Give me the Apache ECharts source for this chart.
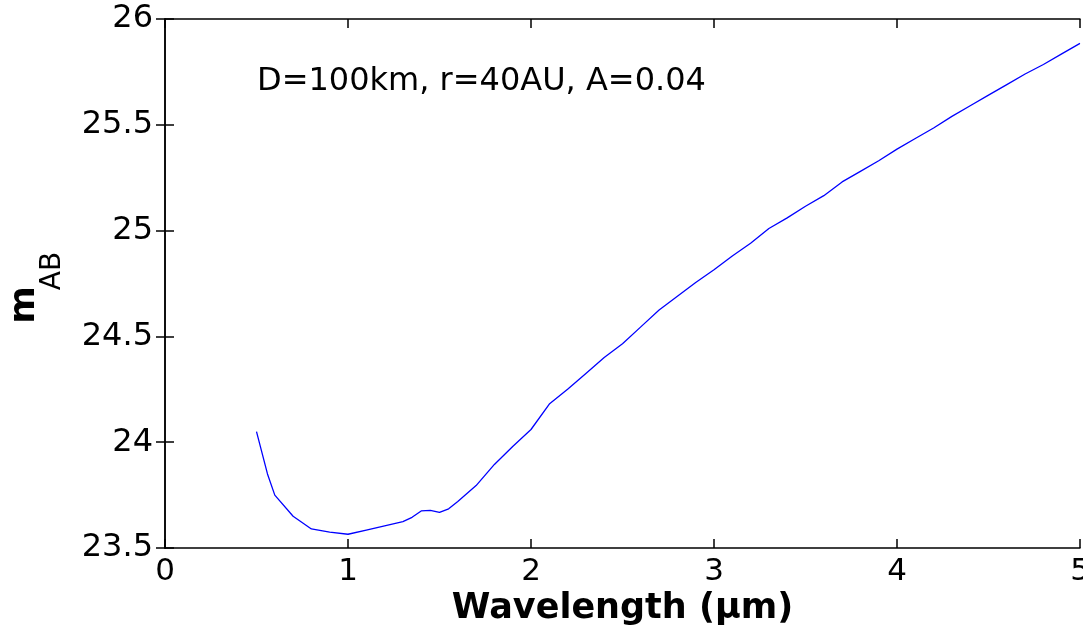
<!DOCTYPE html>
<html>
<head>
<meta charset="utf-8">
<script src="https://cdn.jsdelivr.net/npm/echarts@6/dist/echarts.min.js"></script>
<style>html,body{margin:0;padding:0;background:#fff;}#c{width:1083px;height:629px;}</style>
</head>
<body>
<div id="c"></div>
<script>
const wavelength = [0.50, 0.56, 0.60, 0.70, 0.80, 0.90, 1.00, 1.10, 1.20, 1.30, 1.35, 1.40, 1.45, 1.50, 1.55, 1.60, 1.70, 1.80, 1.90, 2.00, 2.10, 2.20, 2.30, 2.40, 2.50, 2.60, 2.70, 2.80, 2.90, 3.00, 3.10, 3.20, 3.30, 3.40, 3.50, 3.60, 3.70, 3.80, 3.90, 4.00, 4.10, 4.20, 4.30, 4.40, 4.50, 4.60, 4.70, 4.80, 4.90, 5.00];
const mAB = [24.05, 23.85, 23.75, 23.65, 23.59, 23.575, 23.565, 23.585, 23.605, 23.625, 23.645, 23.675, 23.678, 23.668, 23.685, 23.72, 23.795, 23.895, 23.98, 24.06, 24.18, 24.25, 24.325, 24.40, 24.465, 24.545, 24.625, 24.69, 24.755, 24.815, 24.88, 24.94, 25.01, 25.06, 25.115, 25.165, 25.23, 25.28, 25.33, 25.385, 25.435, 25.485, 25.54, 25.59, 25.64, 25.69, 25.74, 25.785, 25.835, 25.885];
const xTicks = {min: 0, max: 5, interval: 1};
const yTicks = {min: 23.5, max: 26, interval: 0.5};
const annotation = 'D=100km, r=40AU, A=0.04';
const xTitle = 'Wavelength (\u03bcm)';
const yTitleMain = 'm';
const yTitleSub = 'AB';

const chart = echarts.init(document.getElementById('c'), null, {renderer: 'canvas'});
const axisLine = {show: true, lineStyle: {color: '#000', width: 1.5}};
const tick = {show: true, inside: true, length: 9, lineStyle: {color: '#000', width: 1.5}};
const font = 'DejaVu Sans';
chart.setOption({
  animation: false,
  backgroundColor: '#fff',
  grid: {left: 165, right: 3, top: 19, bottom: 81, containLabel: false, outerBoundsMode: 'none'},
  xAxis: [{
    type: 'value', min: xTicks.min, max: xTicks.max, interval: xTicks.interval,
    position: 'bottom',
    axisLine: axisLine, axisTick: tick, splitLine: {show: false},
    axisLabel: {color: '#000', fontSize: 31, fontFamily: font, margin: 8},
    name: xTitle, nameLocation: 'middle', nameGap: 42,
    nameTextStyle: {color: '#000', fontSize: 35, fontWeight: 'bold', fontFamily: font}
  }, {
    type: 'value', min: xTicks.min, max: xTicks.max, interval: xTicks.interval,
    position: 'top',
    axisLine: axisLine, axisTick: tick, splitLine: {show: false},
    axisLabel: {show: false}
  }],
  yAxis: [{
    type: 'value', min: yTicks.min, max: yTicks.max, interval: yTicks.interval,
    position: 'left',
    axisLine: axisLine, axisTick: tick, splitLine: {show: false},
    axisLabel: {color: '#000', fontSize: 32, fontFamily: font, margin: 12}
  }, {
    type: 'value', min: yTicks.min, max: yTicks.max, interval: yTicks.interval,
    position: 'right',
    axisLine: axisLine, axisTick: tick, splitLine: {show: false},
    axisLabel: {show: false}
  }],
  graphic: [
    {type: 'text', x: 257, y: 82, style: {text: annotation, fill: '#000', fontSize: 32, fontFamily: font, textAlign: 'left', textVerticalAlign: 'middle'}},
    {type: 'text', x: 25, y: 305, rotation: Math.PI / 2, style: {text: yTitleMain, fill: '#000', fontSize: 36, fontWeight: 'bold', fontFamily: font, textAlign: 'center', textVerticalAlign: 'middle'}},
    {type: 'text', x: 53, y: 271, rotation: Math.PI / 2, style: {text: yTitleSub, fill: '#000', fontSize: 28, fontFamily: font, textAlign: 'center', textVerticalAlign: 'middle'}}
  ],
  series: [{
    type: 'line',
    data: wavelength.map((w, i) => [w, mAB[i]]),
    showSymbol: false,
    lineStyle: {color: '#0000ff', width: 1.3},
    silent: true
  }]
});
</script>
</body>
</html>
